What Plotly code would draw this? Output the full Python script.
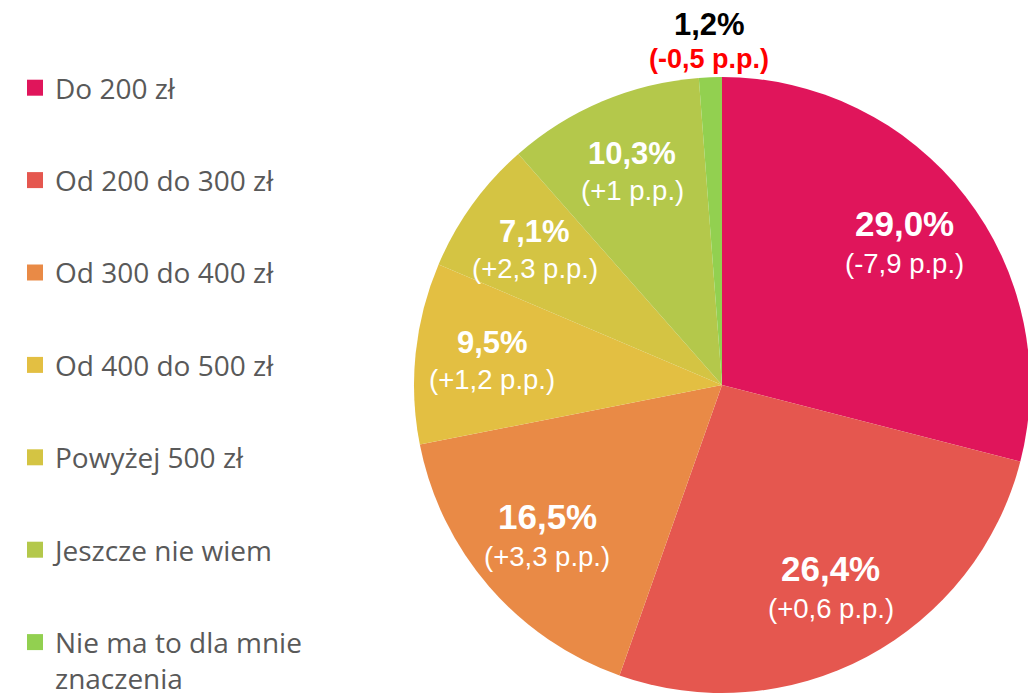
import math
import plotly.graph_objects as go

# ---- data ----
categories = ["Do 200 zł", "Od 200 do 300 zł", "Od 300 do 400 zł", "Od 400 do 500 zł",
              "Powyżej 500 zł", "Jeszcze nie wiem", "Nie ma to dla mnie znaczenia"]
legend_labels = ["Do 200 zł", "Od 200 do 300 zł", "Od 300 do 400 zł", "Od 400 do 500 zł",
                 "Powyżej 500 zł", "Jeszcze nie wiem", "Nie ma to dla mnie<br>znaczenia"]
shares = [29.0, 26.4, 16.5, 9.5, 7.1, 10.3, 1.2]
changes = ["-7,9", "+0,6", "+3,3", "+1,2", "+2,3", "+1", "-0,5"]
colors = ["#E0155B", "#E5574F", "#E98A46", "#E3BF42", "#D4C443", "#B4C84B", "#92D050"]

# ---- layout geometry (screen pixels; page body has an 8px margin) ----
W, H = 1036, 695
OX, OY = 8, 8
CX, CY, R = 722, 385, 308


def fx(px):
    return (px - OX) / W


def fy(py):
    return 1 - (py - OY) / H


fig = go.Figure()
fig.add_trace(go.Pie(
    labels=categories, values=shares, sort=False, direction="clockwise", rotation=0,
    marker=dict(colors=colors, line=dict(width=0)),
    textinfo="none", hoverinfo="label+percent", showlegend=False,
    domain=dict(x=[fx(CX - R), fx(CX + R)], y=[fy(CY + R), fy(CY - R)]),
))

# legend entries
for lab, col in zip(legend_labels, colors):
    fig.add_trace(go.Scatter(
        x=[None], y=[None], mode="markers", name=lab, legendgroup=lab,
        marker=dict(symbol="square", size=18, color=col), showlegend=True,
    ))

# labels
total = sum(shares)
cum = 0.0
annotations = []
for v, ch in zip(shares, changes):
    mid = (cum + v / 2) / total * 2 * math.pi
    cum += v
    small = v < 2
    rr = 1.115 * R if small else 0.75 * R
    px = CX + rr * math.sin(mid)
    py = CY - rr * math.cos(mid)
    big = v >= 15
    top_size = 35 if big else 31
    gap = 20 if big else 18.5
    top_txt = "<b>" + f"{v:.1f}%".replace(".", ",") + "</b>"
    sub_txt = f"({ch} p.p.)"
    if small:
        top_col, sub_col, sub_txt = "#000000", "#FF0000", "<b>" + sub_txt + "</b>"
        sub_size = 27
        gap = 17.5
    else:
        top_col = sub_col = "#FFFFFF"
        sub_size = 27.5
    annotations.append(dict(x=fx(px), y=fy(py - gap), xref="paper", yref="paper",
                            text=top_txt, showarrow=False, xanchor="center", yanchor="middle",
                            font=dict(family="Liberation Sans, Arial", size=top_size, color=top_col)))
    annotations.append(dict(x=fx(px), y=fy(py + gap), xref="paper", yref="paper",
                            text=sub_txt, showarrow=False, xanchor="center", yanchor="middle",
                            font=dict(family="Liberation Sans, Arial", size=sub_size, color=sub_col)))

fig.update_layout(
    width=W, height=H,
    margin=dict(l=0, r=0, t=0, b=0, autoexpand=False),
    paper_bgcolor="white", plot_bgcolor="white",
    xaxis=dict(visible=False), yaxis=dict(visible=False),
    showlegend=True,
    legend=dict(x=fx(15), y=fy(63), xanchor="left", yanchor="top",
                tracegroupgap=53, valign="top", bgcolor="rgba(0,0,0,0)",
                font=dict(family="Open Sans", size=28, color="#595959")),
    annotations=annotations,
)

fig.write_html("out.html")
